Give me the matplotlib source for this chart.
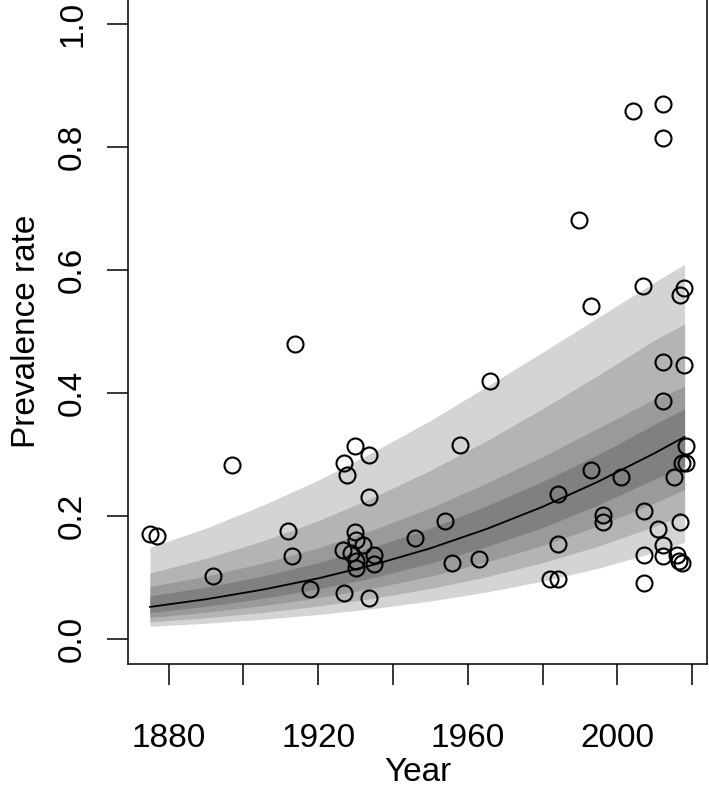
import numpy as np
import matplotlib
matplotlib.use('Agg')
import matplotlib.pyplot as plt

plt.rcParams['font.family'] = ['Liberation Sans', 'DejaVu Sans']

# observed prevalence (year, rate)
obs_year = [1874.9, 1877.0, 1891.8, 1896.9, 1912.0, 1912.9, 1913.9, 1917.8,
            1926.7, 1926.8, 1926.9, 1927.7, 1928.7, 1929.8, 1929.8, 1930.0,
            1930.0, 1930.0, 1932.0, 1933.7, 1933.7, 1933.7, 1934.9, 1934.9,
            1945.8, 1953.8, 1955.8, 1957.8, 1962.9, 1965.9, 1982.0, 1984.1,
            1984.1, 1984.2, 1989.8, 1992.9, 1993.0, 1996.1, 1996.1, 2001.0,
            2004.3, 2006.9, 2007.2, 2007.2, 2007.2, 2011.0, 2012.1, 2012.1,
            2012.1, 2012.1, 2012.1, 2012.1, 2015.2, 2016.0, 2016.5, 2016.7,
            2016.9, 2017.2, 2017.2, 2017.8, 2017.8, 2018.3, 2018.3]
obs_rate = [0.171, 0.167, 0.103, 0.282, 0.176, 0.134, 0.480, 0.081,
            0.145, 0.286, 0.074, 0.267, 0.140, 0.313, 0.173, 0.160,
            0.126, 0.115, 0.153, 0.299, 0.230, 0.066, 0.137, 0.121,
            0.164, 0.192, 0.123, 0.316, 0.130, 0.420, 0.098, 0.236,
            0.155, 0.098, 0.681, 0.542, 0.274, 0.202, 0.190, 0.263,
            0.859, 0.574, 0.208, 0.137, 0.091, 0.178, 0.869, 0.814,
            0.450, 0.386, 0.153, 0.135, 0.263, 0.136, 0.126, 0.559,
            0.190, 0.286, 0.123, 0.570, 0.445, 0.286, 0.313]

# fitted trend and credible bands
fit_year = [1875, 1890, 1905, 1920, 1935, 1950, 1965, 1980, 1995, 2010, 2018]
fit_mean = [0.052, 0.0645, 0.0799, 0.0984, 0.1208, 0.1473, 0.1786, 0.2147, 0.256, 0.302, 0.3285]
hi1 = [0.149, 0.180, 0.217, 0.258, 0.305, 0.355, 0.410, 0.466, 0.523, 0.580, 0.609]
hi2 = [0.107, 0.131, 0.159, 0.192, 0.231, 0.274, 0.322, 0.374, 0.429, 0.486, 0.512]
hi3 = [0.085, 0.102, 0.123, 0.148, 0.178, 0.213, 0.253, 0.296, 0.343, 0.390, 0.410]
hi4 = [0.070, 0.084, 0.102, 0.124, 0.150, 0.180, 0.216, 0.256, 0.300, 0.349, 0.374]
lo4 = [0.0426, 0.0530, 0.0657, 0.0813, 0.100, 0.123, 0.150, 0.181, 0.218, 0.260, 0.280]
lo3 = [0.0348, 0.0433, 0.054, 0.0669, 0.0828, 0.102, 0.125, 0.152, 0.184, 0.221, 0.243]
lo2 = [0.0276, 0.0344, 0.0429, 0.0534, 0.0663, 0.0820, 0.101, 0.124, 0.151, 0.183, 0.202]
lo1 = [0.0204, 0.0255, 0.0319, 0.0397, 0.0495, 0.0615, 0.0762, 0.0939, 0.115, 0.141, 0.157]

x_ticks = [1880, 1900, 1920, 1940, 1960, 1980, 2000, 2020]
x_labels = ['1880', '', '1920', '', '1960', '', '2000', '']
y_ticks = [0.0, 0.2, 0.4, 0.6, 0.8, 1.0]
y_labels = ['0.0', '0.2', '0.4', '0.6', '0.8', '1.0']

fig = plt.figure(figsize=(7.09, 7.88), dpi=100)
ax = fig.add_axes([128.3 / 709, (788 - 663.5) / 788, (707.0 - 128.3) / 709, 664.3 / 788])

band_cols = ['#d4d4d4', '#b4b4b4', '#9a9a9a', '#808080']
for lo, hi, c in zip([lo1, lo2, lo3, lo4], [hi1, hi2, hi3, hi4], band_cols):
    ax.fill_between(fit_year, lo, hi, color=c, lw=0)
ax.plot(fit_year, fit_mean, color='black', lw=1.3)
ax.plot(obs_year, obs_rate, 'o', mfc='none', mec='black', ms=11.5, mew=1.5)

ax.set_xlim(1869.2, 2024.0)
ax.set_ylim(-0.04, 1.04)
ax.set_xticks(x_ticks)
ax.set_xticklabels(x_labels)
ax.set_yticks(y_ticks)
ax.set_yticklabels(y_labels, rotation=90, va='center')
ax.tick_params(axis='both', length=15, width=1.1, labelsize=24, direction='out')
ax.tick_params(axis='x', pad=28)
ax.tick_params(axis='y', pad=14)
ax.spines['top'].set_visible(False)
for s in ax.spines.values():
    s.set_linewidth(1.1)
ax.set_xlabel('Year', fontsize=24, labelpad=2)
ax.set_ylabel('Prevalence rate', fontsize=24, labelpad=11)

fig.savefig('out.png', dpi=100)
